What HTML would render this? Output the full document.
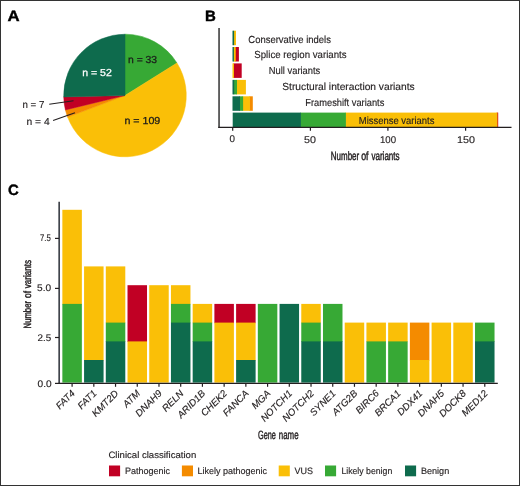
<!DOCTYPE html>
<html><head><meta charset="utf-8"><style>
html,body{margin:0;padding:0;background:#fff;}
svg{display:block;}
text{font-family:"Liberation Sans",sans-serif;text-rendering:geometricPrecision;}
</style></head><body>
<svg width="520" height="486" viewBox="0 0 520 486">
<rect x="0" y="0" width="520" height="486" fill="#fff"/>
<g style="will-change:transform">
<path d="M125,95.5 L125.00,34.20 A61.3,61.3 0 0 1 176.96,62.97 Z" fill="#37a935" stroke="#37a935" stroke-width="0.5" stroke-linejoin="round"/>
<path d="M125,95.5 L176.96,62.97 A61.3,61.3 0 1 1 67.63,117.10 Z" fill="#fabf07" stroke="#fabf07" stroke-width="0.5" stroke-linejoin="round"/>
<path d="M125,95.5 L67.63,117.10 A61.3,61.3 0 0 1 65.42,109.92 Z" fill="#f48b00" stroke="#f48b00" stroke-width="0.5" stroke-linejoin="round"/>
<path d="M125,95.5 L65.42,109.92 A61.3,61.3 0 0 1 63.72,96.91 Z" fill="#c10024" stroke="#c10024" stroke-width="0.5" stroke-linejoin="round"/>
<path d="M125,95.5 L63.72,96.91 A61.3,61.3 0 0 1 125.00,34.20 Z" fill="#0e6b4d" stroke="#0e6b4d" stroke-width="0.5" stroke-linejoin="round"/>
<line x1="49.2" y1="104.2" x2="73.5" y2="100.8" stroke="#231f20" stroke-width="1.05"/>
<line x1="53.1" y1="120.6" x2="75" y2="112.8" stroke="#231f20" stroke-width="1.05"/>
<rect x="233.50" y="30.7" width="2.50" height="14.5" fill="#fabf07"/>
<rect x="232.50" y="30.7" width="1.60" height="14.5" fill="#0e6b4d"/>
<rect x="235.40" y="47.0" width="3.50" height="14.5" fill="#c10024"/>
<rect x="234.40" y="47.0" width="1.60" height="14.5" fill="#f48b00"/>
<rect x="233.30" y="47.0" width="1.70" height="14.5" fill="#fabf07"/>
<rect x="232.50" y="47.0" width="1.40" height="14.5" fill="#0e6b4d"/>
<rect x="233.40" y="63.4" width="8.30" height="14.5" fill="#c10024"/>
<rect x="232.50" y="63.4" width="1.50" height="14.5" fill="#fabf07"/>
<rect x="236.40" y="79.9" width="9.50" height="14.5" fill="#fabf07"/>
<rect x="233.60" y="79.9" width="3.40" height="14.5" fill="#37a935"/>
<rect x="232.50" y="79.9" width="1.70" height="14.5" fill="#0e6b4d"/>
<rect x="249.30" y="96.3" width="3.50" height="14.5" fill="#f48b00"/>
<rect x="242.50" y="96.3" width="7.40" height="14.5" fill="#fabf07"/>
<rect x="239.40" y="96.3" width="3.70" height="14.5" fill="#37a935"/>
<rect x="232.50" y="96.3" width="7.50" height="14.5" fill="#0e6b4d"/>
<rect x="497.00" y="112.6" width="1.20" height="14.5" fill="#c10024"/>
<rect x="496.30" y="112.6" width="1.30" height="14.5" fill="#f48b00"/>
<rect x="345.30" y="112.6" width="151.60" height="14.5" fill="#fabf07"/>
<rect x="300.30" y="112.6" width="45.60" height="14.5" fill="#37a935"/>
<rect x="232.70" y="112.6" width="68.20" height="14.5" fill="#0e6b4d"/>
<line x1="219.05" y1="28" x2="219.05" y2="128" stroke="#333" stroke-width="1.5"/>
<line x1="218.3" y1="127.3" x2="511.5" y2="127.3" stroke="#231f20" stroke-width="1.2"/>
<line x1="232.70" y1="127.3" x2="232.70" y2="130.8" stroke="#231f20" stroke-width="1.2"/>
<line x1="310.40" y1="127.3" x2="310.40" y2="130.8" stroke="#231f20" stroke-width="1.2"/>
<line x1="387.90" y1="127.3" x2="387.90" y2="130.8" stroke="#231f20" stroke-width="1.2"/>
<line x1="465.60" y1="127.3" x2="465.60" y2="130.8" stroke="#231f20" stroke-width="1.2"/>
<rect x="62.35" y="209.8" width="19.5" height="94.70" fill="#fabf07"/>
<rect x="62.35" y="303.9" width="19.5" height="78.70" fill="#37a935"/>
<line x1="72.10" y1="383.3" x2="72.10" y2="386.8" stroke="#231f20" stroke-width="1.2"/>
<rect x="84.07" y="266.4" width="19.5" height="94.20" fill="#fabf07"/>
<rect x="84.07" y="360" width="19.5" height="22.60" fill="#0e6b4d"/>
<line x1="93.82" y1="383.3" x2="93.82" y2="386.8" stroke="#231f20" stroke-width="1.2"/>
<rect x="105.79" y="266.4" width="19.5" height="56.80" fill="#fabf07"/>
<rect x="105.79" y="322.6" width="19.5" height="19.40" fill="#37a935"/>
<rect x="105.79" y="341.4" width="19.5" height="41.20" fill="#0e6b4d"/>
<line x1="115.54" y1="383.3" x2="115.54" y2="386.8" stroke="#231f20" stroke-width="1.2"/>
<rect x="127.51" y="285.2" width="19.5" height="56.80" fill="#c10024"/>
<rect x="127.51" y="341.4" width="19.5" height="41.20" fill="#fabf07"/>
<line x1="137.26" y1="383.3" x2="137.26" y2="386.8" stroke="#231f20" stroke-width="1.2"/>
<rect x="149.23" y="285.2" width="19.5" height="97.40" fill="#fabf07"/>
<line x1="158.98" y1="383.3" x2="158.98" y2="386.8" stroke="#231f20" stroke-width="1.2"/>
<rect x="170.95" y="285.2" width="19.5" height="19.30" fill="#fabf07"/>
<rect x="170.95" y="303.9" width="19.5" height="19.30" fill="#37a935"/>
<rect x="170.95" y="322.6" width="19.5" height="60.00" fill="#0e6b4d"/>
<line x1="180.70" y1="383.3" x2="180.70" y2="386.8" stroke="#231f20" stroke-width="1.2"/>
<rect x="192.67" y="303.9" width="19.5" height="19.30" fill="#fabf07"/>
<rect x="192.67" y="322.6" width="19.5" height="19.40" fill="#37a935"/>
<rect x="192.67" y="341.4" width="19.5" height="41.20" fill="#0e6b4d"/>
<line x1="202.42" y1="383.3" x2="202.42" y2="386.8" stroke="#231f20" stroke-width="1.2"/>
<rect x="214.39" y="303.9" width="19.5" height="19.30" fill="#c10024"/>
<rect x="214.39" y="322.6" width="19.5" height="60.00" fill="#fabf07"/>
<line x1="224.14" y1="383.3" x2="224.14" y2="386.8" stroke="#231f20" stroke-width="1.2"/>
<rect x="236.11" y="303.9" width="19.5" height="19.30" fill="#c10024"/>
<rect x="236.11" y="322.6" width="19.5" height="38.00" fill="#fabf07"/>
<rect x="236.11" y="360" width="19.5" height="22.60" fill="#0e6b4d"/>
<line x1="245.86" y1="383.3" x2="245.86" y2="386.8" stroke="#231f20" stroke-width="1.2"/>
<rect x="257.83" y="303.9" width="19.5" height="78.70" fill="#37a935"/>
<line x1="267.58" y1="383.3" x2="267.58" y2="386.8" stroke="#231f20" stroke-width="1.2"/>
<rect x="279.55" y="303.9" width="19.5" height="78.70" fill="#0e6b4d"/>
<line x1="289.30" y1="383.3" x2="289.30" y2="386.8" stroke="#231f20" stroke-width="1.2"/>
<rect x="301.27" y="303.9" width="19.5" height="19.30" fill="#fabf07"/>
<rect x="301.27" y="322.6" width="19.5" height="19.40" fill="#37a935"/>
<rect x="301.27" y="341.4" width="19.5" height="41.20" fill="#0e6b4d"/>
<line x1="311.02" y1="383.3" x2="311.02" y2="386.8" stroke="#231f20" stroke-width="1.2"/>
<rect x="322.99" y="303.9" width="19.5" height="38.10" fill="#37a935"/>
<rect x="322.99" y="341.4" width="19.5" height="41.20" fill="#0e6b4d"/>
<line x1="332.74" y1="383.3" x2="332.74" y2="386.8" stroke="#231f20" stroke-width="1.2"/>
<rect x="344.71" y="322.6" width="19.5" height="60.00" fill="#fabf07"/>
<line x1="354.46" y1="383.3" x2="354.46" y2="386.8" stroke="#231f20" stroke-width="1.2"/>
<rect x="366.43" y="322.6" width="19.5" height="19.40" fill="#fabf07"/>
<rect x="366.43" y="341.4" width="19.5" height="41.20" fill="#37a935"/>
<line x1="376.18" y1="383.3" x2="376.18" y2="386.8" stroke="#231f20" stroke-width="1.2"/>
<rect x="388.15" y="322.6" width="19.5" height="19.40" fill="#fabf07"/>
<rect x="388.15" y="341.4" width="19.5" height="41.20" fill="#37a935"/>
<line x1="397.90" y1="383.3" x2="397.90" y2="386.8" stroke="#231f20" stroke-width="1.2"/>
<rect x="409.87" y="322.6" width="19.5" height="38.00" fill="#f48b00"/>
<rect x="409.87" y="360" width="19.5" height="22.60" fill="#fabf07"/>
<line x1="419.62" y1="383.3" x2="419.62" y2="386.8" stroke="#231f20" stroke-width="1.2"/>
<rect x="431.59" y="322.6" width="19.5" height="60.00" fill="#fabf07"/>
<line x1="441.34" y1="383.3" x2="441.34" y2="386.8" stroke="#231f20" stroke-width="1.2"/>
<rect x="453.31" y="322.6" width="19.5" height="60.00" fill="#fabf07"/>
<line x1="463.06" y1="383.3" x2="463.06" y2="386.8" stroke="#231f20" stroke-width="1.2"/>
<rect x="475.03" y="322.6" width="19.5" height="19.40" fill="#37a935"/>
<rect x="475.03" y="341.4" width="19.5" height="41.20" fill="#0e6b4d"/>
<line x1="484.78" y1="383.3" x2="484.78" y2="386.8" stroke="#231f20" stroke-width="1.2"/>
<line x1="59.15" y1="201.8" x2="59.15" y2="384" stroke="#2b2f36" stroke-width="1.5"/>
<line x1="58.5" y1="383.3" x2="497.8" y2="383.3" stroke="#231f20" stroke-width="1.3"/>
<line x1="55" y1="383.4" x2="59" y2="383.4" stroke="#231f20" stroke-width="1.2"/>
<line x1="55" y1="337.5" x2="59" y2="337.5" stroke="#231f20" stroke-width="1.2"/>
<line x1="55" y1="288.4" x2="59" y2="288.4" stroke="#231f20" stroke-width="1.2"/>
<line x1="55" y1="238.4" x2="59" y2="238.4" stroke="#231f20" stroke-width="1.2"/>
<rect x="109" y="465.5" width="11.1" height="10.8" fill="#c10024"/>
<rect x="181.9" y="465.5" width="11.1" height="10.8" fill="#f48b00"/>
<rect x="278.7" y="465.5" width="11.1" height="10.8" fill="#fabf07"/>
<rect x="325" y="465.5" width="11.1" height="10.8" fill="#37a935"/>
<rect x="405" y="465.5" width="11.1" height="10.8" fill="#0e6b4d"/>
<text id="tA" font-size="15.00" fill="#000" font-weight="bold" stroke="#000" stroke-width="0.4" textLength="12.12" lengthAdjust="spacingAndGlyphs" x="7.50" y="21.30">A</text>
<text id="tB" font-size="15.00" fill="#000" font-weight="bold" stroke="#000" stroke-width="0.4" x="205.00" y="21.00">B</text>
<text id="tC" font-size="15.00" fill="#000" font-weight="bold" stroke="#000" stroke-width="0.4" textLength="10.75" lengthAdjust="spacingAndGlyphs" x="8.00" y="194.60">C</text>
<text id="n52" font-size="10.11" fill="#fff" stroke="#fff" stroke-width="0.25" textLength="29.63" lengthAdjust="spacingAndGlyphs" x="82.20" y="75.90">n = 52</text>
<text id="n33" font-size="10.11" fill="#1a1a1a" stroke="#1a1a1a" stroke-width="0.25" textLength="29.12" lengthAdjust="spacingAndGlyphs" x="128.00" y="63.20">n = 33</text>
<text id="n109" font-size="10.11" fill="#1a1a1a" stroke="#1a1a1a" stroke-width="0.25" textLength="35.88" lengthAdjust="spacingAndGlyphs" x="124.40" y="124.20">n = 109</text>
<text id="n7" font-size="10.11" fill="#231f20" stroke="#231f20" stroke-width="0.15" textLength="21.90" lengthAdjust="spacingAndGlyphs" x="22.40" y="107.60">n = 7</text>
<text id="n4" font-size="10.11" fill="#231f20" stroke="#231f20" stroke-width="0.15" textLength="23.22" lengthAdjust="spacingAndGlyphs" x="26.50" y="125.10">n = 4</text>
<text id="bl1" font-size="10.22" fill="#231f20" stroke="#231f20" stroke-width="0.15" textLength="82.58" lengthAdjust="spacingAndGlyphs" x="248.30" y="42.60">Conservative indels</text>
<text id="bl2" font-size="10.22" fill="#231f20" stroke="#231f20" stroke-width="0.15" textLength="92.25" lengthAdjust="spacingAndGlyphs" x="254.30" y="58.10">Splice region variants</text>
<text id="bl3" font-size="10.22" fill="#231f20" stroke="#231f20" stroke-width="0.15" textLength="51.49" lengthAdjust="spacingAndGlyphs" x="268.80" y="74.10">Null variants</text>
<text id="bl4" font-size="10.22" fill="#231f20" stroke="#231f20" stroke-width="0.15" x="282.30" y="90.00">Structural interaction variants</text>
<text id="bl5" font-size="10.22" fill="#231f20" stroke="#231f20" stroke-width="0.15" textLength="78.98" lengthAdjust="spacingAndGlyphs" x="305.30" y="106.00">Frameshift variants</text>
<text id="bl6" font-size="10.22" fill="#231f20" stroke="#231f20" stroke-width="0.15" textLength="75.64" lengthAdjust="spacingAndGlyphs" x="358.80" y="123.90">Missense variants</text>
<text id="bt0" font-size="9.80" fill="#231f20" stroke="#231f20" stroke-width="0.15" x="229.50" y="142.10">0</text>
<text id="bt50" font-size="9.80" fill="#231f20" stroke="#231f20" stroke-width="0.15" textLength="11.92" lengthAdjust="spacingAndGlyphs" x="304.00" y="143.10">50</text>
<text id="bt100" font-size="9.80" fill="#231f20" stroke="#231f20" stroke-width="0.15" textLength="16.12" lengthAdjust="spacingAndGlyphs" x="380.00" y="143.10">100</text>
<text id="bt150" font-size="9.80" fill="#231f20" stroke="#231f20" stroke-width="0.15" textLength="17.95" lengthAdjust="spacingAndGlyphs" x="457.00" y="143.10">150</text>
<text id="bxt0" font-size="12.00" fill="#231f20" stroke="#231f20" stroke-width="0.45" textLength="28.37" lengthAdjust="spacingAndGlyphs" x="330.80" y="160.10">Number</text>
<text id="bxt1" font-size="12.00" fill="#231f20" stroke="#231f20" stroke-width="0.45" textLength="7.35" lengthAdjust="spacingAndGlyphs" x="361.20" y="160.10">of</text>
<text id="bxt2" font-size="12.00" fill="#231f20" stroke="#231f20" stroke-width="0.45" textLength="28.23" lengthAdjust="spacingAndGlyphs" x="371.40" y="160.10">variants</text>
<text id="gFAT4" font-size="9.70" fill="#231f20" font-style="italic" text-anchor="end" stroke="#231f20" stroke-width="0.15" transform="translate(75.60,394.00) rotate(-45)">FAT4</text>
<text id="gFAT1" font-size="9.70" fill="#231f20" font-style="italic" text-anchor="end" stroke="#231f20" stroke-width="0.15" transform="translate(97.32,394.00) rotate(-45)">FAT1</text>
<text id="gKMT2D" font-size="9.70" fill="#231f20" font-style="italic" text-anchor="end" stroke="#231f20" stroke-width="0.15" transform="translate(119.04,394.00) rotate(-45)">KMT2D</text>
<text id="gATM" font-size="9.70" fill="#231f20" font-style="italic" text-anchor="end" stroke="#231f20" stroke-width="0.15" transform="translate(140.76,394.00) rotate(-45)">ATM</text>
<text id="gDNAH9" font-size="9.70" fill="#231f20" font-style="italic" text-anchor="end" stroke="#231f20" stroke-width="0.15" transform="translate(162.48,394.00) rotate(-45)">DNAH9</text>
<text id="gRELN" font-size="9.70" fill="#231f20" font-style="italic" text-anchor="end" stroke="#231f20" stroke-width="0.15" transform="translate(184.20,394.00) rotate(-45)">RELN</text>
<text id="gARID1B" font-size="9.70" fill="#231f20" font-style="italic" text-anchor="end" stroke="#231f20" stroke-width="0.15" transform="translate(205.92,394.00) rotate(-45)">ARID1B</text>
<text id="gCHEK2" font-size="9.70" fill="#231f20" font-style="italic" text-anchor="end" stroke="#231f20" stroke-width="0.15" transform="translate(227.64,394.00) rotate(-45)">CHEK2</text>
<text id="gFANCA" font-size="9.70" fill="#231f20" font-style="italic" text-anchor="end" stroke="#231f20" stroke-width="0.15" transform="translate(249.36,394.00) rotate(-45)">FANCA</text>
<text id="gMGA" font-size="9.70" fill="#231f20" font-style="italic" text-anchor="end" stroke="#231f20" stroke-width="0.15" transform="translate(271.08,394.00) rotate(-45)">MGA</text>
<text id="gNOTCH1" font-size="9.70" fill="#231f20" font-style="italic" text-anchor="end" stroke="#231f20" stroke-width="0.15" transform="translate(292.80,394.00) rotate(-45)">NOTCH1</text>
<text id="gNOTCH2" font-size="9.70" fill="#231f20" font-style="italic" text-anchor="end" stroke="#231f20" stroke-width="0.15" transform="translate(314.52,394.00) rotate(-45)">NOTCH2</text>
<text id="gSYNE1" font-size="9.70" fill="#231f20" font-style="italic" text-anchor="end" stroke="#231f20" stroke-width="0.15" transform="translate(336.24,394.00) rotate(-45)">SYNE1</text>
<text id="gATG2B" font-size="9.70" fill="#231f20" font-style="italic" text-anchor="end" stroke="#231f20" stroke-width="0.15" transform="translate(357.96,394.00) rotate(-45)">ATG2B</text>
<text id="gBIRC6" font-size="9.70" fill="#231f20" font-style="italic" text-anchor="end" stroke="#231f20" stroke-width="0.15" transform="translate(379.68,394.00) rotate(-45)">BIRC6</text>
<text id="gBRCA1" font-size="9.70" fill="#231f20" font-style="italic" text-anchor="end" stroke="#231f20" stroke-width="0.15" transform="translate(401.40,394.00) rotate(-45)">BRCA1</text>
<text id="gDDX41" font-size="9.70" fill="#231f20" font-style="italic" text-anchor="end" stroke="#231f20" stroke-width="0.15" transform="translate(423.12,394.00) rotate(-45)">DDX41</text>
<text id="gDNAH5" font-size="9.70" fill="#231f20" font-style="italic" text-anchor="end" stroke="#231f20" stroke-width="0.15" transform="translate(444.84,394.00) rotate(-45)">DNAH5</text>
<text id="gDOCK8" font-size="9.70" fill="#231f20" font-style="italic" text-anchor="end" stroke="#231f20" stroke-width="0.15" transform="translate(466.56,394.00) rotate(-45)">DOCK8</text>
<text id="gMED12" font-size="9.70" fill="#231f20" font-style="italic" text-anchor="end" stroke="#231f20" stroke-width="0.15" transform="translate(488.28,394.00) rotate(-45)">MED12</text>
<text id="ct00" font-size="9.60" fill="#231f20" stroke="#231f20" stroke-width="0.15" textLength="14.07" lengthAdjust="spacingAndGlyphs" x="37.50" y="386.50">0.0</text>
<text id="ct25" font-size="9.60" fill="#231f20" stroke="#231f20" stroke-width="0.15" textLength="13.64" lengthAdjust="spacingAndGlyphs" x="37.50" y="340.50">2.5</text>
<text id="ct50" font-size="9.60" fill="#231f20" stroke="#231f20" stroke-width="0.15" textLength="14.07" lengthAdjust="spacingAndGlyphs" x="37.00" y="291.00">5.0</text>
<text id="ct75" font-size="9.60" fill="#231f20" stroke="#231f20" stroke-width="0.15" textLength="10.81" lengthAdjust="spacingAndGlyphs" x="40.00" y="241.00">7.5</text>
<text id="cyt0" font-size="10.56" fill="#231f20" stroke="#231f20" stroke-width="0.45" textLength="27.38" lengthAdjust="spacingAndGlyphs" transform="translate(31.30,328.40) rotate(-90)">Number</text>
<text id="cyt1" font-size="10.56" fill="#231f20" stroke="#231f20" stroke-width="0.45" textLength="7.06" lengthAdjust="spacingAndGlyphs" transform="translate(31.30,298.08) rotate(-90)">of</text>
<text id="cyt2" font-size="10.56" fill="#231f20" stroke="#231f20" stroke-width="0.45" textLength="28.28" lengthAdjust="spacingAndGlyphs" transform="translate(31.30,288.24) rotate(-90)">variants</text>
<text id="cxt0" font-size="12.00" fill="#231f20" stroke="#231f20" stroke-width="0.45" textLength="17.88" lengthAdjust="spacingAndGlyphs" x="258.00" y="438.80">Gene</text>
<text id="cxt1" font-size="12.00" fill="#231f20" stroke="#231f20" stroke-width="0.45" textLength="19.76" lengthAdjust="spacingAndGlyphs" x="278.80" y="438.80">name</text>
<text id="lgt" font-size="9.20" fill="#231f20" stroke="#231f20" stroke-width="0.15" textLength="87.83" lengthAdjust="spacingAndGlyphs" x="108.40" y="457.70">Clinical classification</text>
<text id="lg0" font-size="9.21" fill="#231f20" stroke="#231f20" stroke-width="0.15" textLength="45.10" lengthAdjust="spacingAndGlyphs" x="124.90" y="473.70">Pathogenic</text>
<text id="lg1" font-size="9.21" fill="#231f20" stroke="#231f20" stroke-width="0.15" textLength="69.52" lengthAdjust="spacingAndGlyphs" x="197.40" y="473.70">Likely pathogenic</text>
<text id="lg2" font-size="9.21" fill="#231f20" stroke="#231f20" stroke-width="0.15" textLength="18.58" lengthAdjust="spacingAndGlyphs" x="294.40" y="473.70">VUS</text>
<text id="lg3" font-size="9.21" fill="#231f20" stroke="#231f20" stroke-width="0.15" textLength="50.87" lengthAdjust="spacingAndGlyphs" x="341.40" y="473.70">Likely benign</text>
<text id="lg4" font-size="9.21" fill="#231f20" stroke="#231f20" stroke-width="0.15" textLength="28.31" lengthAdjust="spacingAndGlyphs" x="420.90" y="473.70">Benign</text>
</g>
<rect x="0.5" y="0.5" width="519" height="485" fill="none" stroke="#333" stroke-width="1"/>
</svg>
</body></html>
